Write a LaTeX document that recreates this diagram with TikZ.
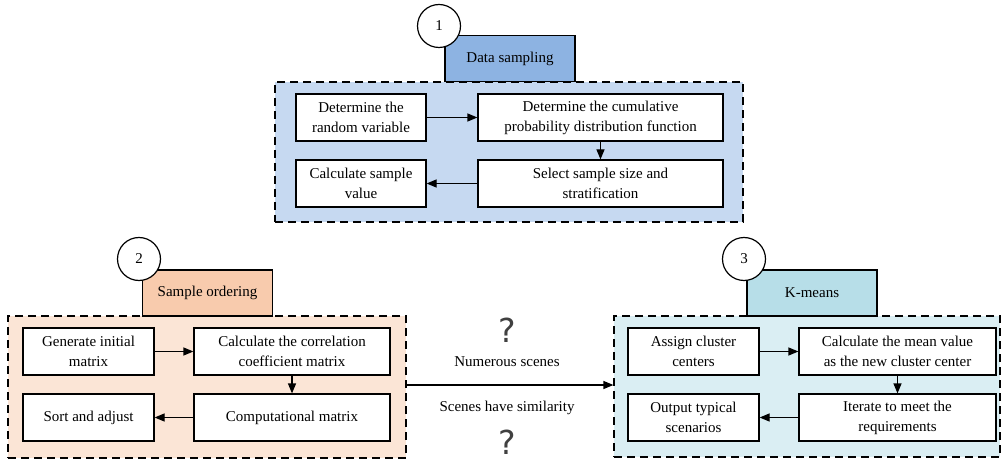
\documentclass[tikz,border=0pt]{standalone}
\usepackage{fontspec}
\setmainfont{Liberation Serif}
\newfontfamily\qfont{DejaVu Sans}
\usetikzlibrary{arrows.meta}
\definecolor{bluearea}{HTML}{C6D9F1}
\definecolor{bluetab}{HTML}{8DB3E2}
\definecolor{orarea}{HTML}{FBE5D6}
\definecolor{ortab}{HTML}{F8CBAD}
\definecolor{cyarea}{HTML}{DAEEF3}
\definecolor{cytab}{HTML}{B7DEE8}
\definecolor{qgrey}{HTML}{404040}
\begin{document}
\begin{tikzpicture}[x=1pt,y=-1pt,
  every node/.style={font=\fontsize{15}{20}\selectfont, inner sep=0pt},
  frame/.style={draw, dashed, dash pattern=on 8pt off 5pt, line width=1.2pt, minimum width=#1},
  tab/.style={draw, line width=1.2pt, minimum width=130pt, minimum height=46pt},
  stepbox/.style={draw, fill=white, line width=1.2pt, minimum height=47pt, minimum width=#1, align=center},
  num/.style={draw, circle, fill=white, line width=1.2pt, minimum size=43pt},
  arr/.style={line width=1.2pt, -{Triangle[length=10pt,width=8pt]}},
  qmark/.style={font=\qfont\fontsize{33}{33}\selectfont, text=qgrey, anchor=base, text depth=0pt}
]
\useasboundingbox (0,0) rectangle (1003,462);
% ---------- 1: Data sampling
\node[frame=468pt, minimum height=140pt, fill=bluearea] (f1) at (509,152) {};
\node[tab, fill=bluetab] (t1) at (510,58.5) {Data sampling};
\node[num] (c1) at (439,26) {1};
\node[stepbox=130pt] (a1) at (361,117.5) {Determine the\\random variable};
\node[stepbox=245pt] (a2) at (600.5,117.5) {Determine the cumulative\\probability distribution function};
\node[stepbox=130pt] (a3) at (361,183.5) {Calculate sample\\value};
\node[stepbox=245pt] (a4) at (600.5,183.5) {Select sample size and\\stratification};
\draw[arr] (a1) -- (a2);
\draw[arr] (a2) -- (a4);
\draw[arr] (a4) -- (a3);
% ---------- 2: Sample ordering
\node[frame=398pt, minimum height=142pt, fill=orarea] (f2) at (207,387) {};
\node[tab, fill=ortab] (t2) at (207.5,293) {Sample ordering};
\node[num] (c2) at (139,259) {2};
\node[stepbox=131pt] (g1) at (88.5,351.5) {Generate initial\\matrix};
\node[stepbox=196pt] (g2) at (292,351.5) {Calculate the correlation\\coefficient matrix};
\node[stepbox=131pt] (g3) at (88.5,417.5) {Sort and adjust};
\node[stepbox=196pt] (g4) at (292,417.5) {Computational matrix};
\draw[arr] (g1) -- (g2);
\draw[arr] (g2) -- (g4);
\draw[arr] (g4) -- (g3);
% ---------- 3: K-means
\node[frame=386pt, minimum height=141pt, fill=cyarea] (f3) at (807,386.5) {};
\node[tab, fill=cytab] (t3) at (812,293) {K-means};
\node[num] (c3) at (744,259) {3};
\node[stepbox=131pt] (k1) at (693.5,351.5) {Assign cluster\\centers};
\node[stepbox=197pt] (k2) at (897.5,351.5) {Calculate the mean value\\as the new cluster center};
\node[stepbox=131pt] (k3) at (693.5,417.5) {Output typical\\scenarios};
\node[stepbox=197pt] (k4) at (897.5,417.5) {Iterate to meet the\\requirements};
\draw[arr] (k1) -- (k2);
\draw[arr] (k2) -- (k4);
\draw[arr] (k4) -- (k3);
% ---------- link
\draw[arr] (f2.east |- 0,385) coordinate (s) -- (f3.west |- s);
\node (l1) at (507,362) {Numerous scenes};
\node (l2) at (507,408) {Scenes have similarity};
\node[qmark] (q1) at (507,342) {?};
\node[qmark] (q2) at (507,454) {?};
\end{tikzpicture}
\end{document}
